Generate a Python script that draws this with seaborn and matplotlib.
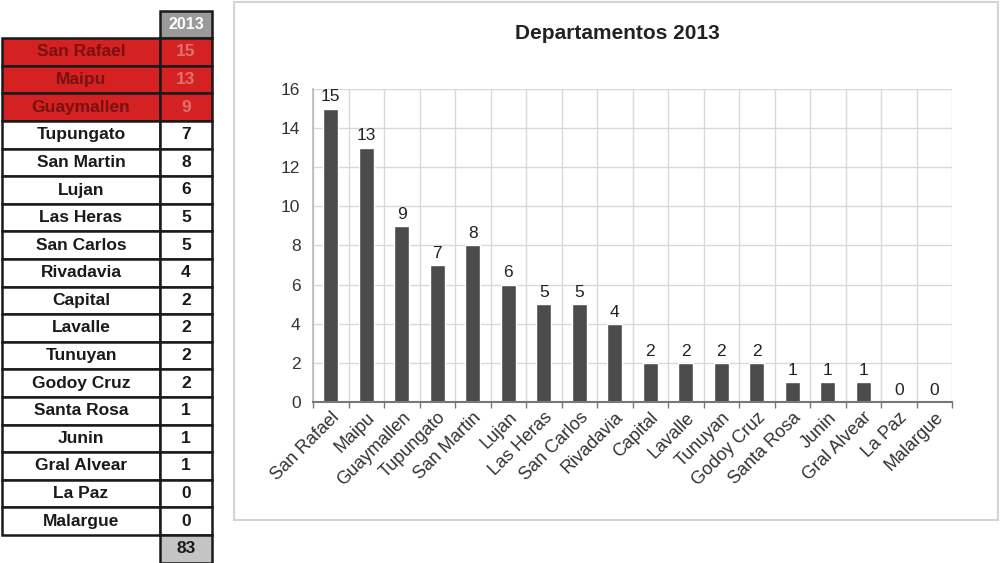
import matplotlib.pyplot as plt
import matplotlib.patches as mpatches
import seaborn as sns
import numpy as np
import pandas as pd

sns.set_theme(style="white")
plt.rcParams["font.family"] = ["Liberation Sans", "DejaVu Sans"]

DEPARTAMENTOS = ["San Rafael", "Maipu", "Guaymallen", "Tupungato", "San Martin",
                 "Lujan", "Las Heras", "San Carlos", "Rivadavia", "Capital",
                 "Lavalle", "Tunuyan", "Godoy Cruz", "Santa Rosa", "Junin",
                 "Gral Alvear", "La Paz", "Malargue"]
CASOS = [15, 13, 9, 7, 8, 6, 5, 5, 4, 2, 2, 2, 2, 1, 1, 1, 0, 0]
YEAR = "2013"
TOP_N = 3

RED = "#d42222"
BAR = "#4b4b4b"
GRID = "#d9d9d9"

df = pd.DataFrame({"depto": DEPARTAMENTOS, "casos": CASOS})

fig = plt.figure(figsize=(10, 5.63), dpi=100)

# ---- table on the left (pixel-like units) ----
tab = fig.add_axes([0, 0, 0.215, 1])
row_h = 27.6
y0 = 52
tab.set_xlim(0, 215)
tab.set_ylim(563, 0)
tab.axis("off")
name_x0, name_x1, val_x1 = 2, 160, 212

def cell(x0, x1, yc, face, lw=1.8):
    tab.add_patch(mpatches.Rectangle((x0, yc - row_h / 2), x1 - x0, row_h,
                                     facecolor=face, edgecolor="#1a1a1a", lw=lw))

# header
hy = y0 - row_h
cell(name_x1, val_x1, hy, "#9a9a9a")
tab.text((name_x1 + val_x1) / 2, hy, YEAR, ha="center", va="center",
         color="white", fontsize=11.5, fontweight="bold")

for i, (name, val) in enumerate(zip(DEPARTAMENTOS, CASOS)):
    yc = y0 + i * row_h
    top = i < TOP_N
    face = RED if top else "white"
    txt = "#7a1010" if top else "#1a1a1a"
    cell(name_x0, name_x1, yc, face)
    cell(name_x1, val_x1, yc, face)
    tab.text((name_x0 + name_x1) / 2, yc, name, ha="center", va="center",
             color=txt, fontsize=12.5, fontweight="bold")
    tab.text((name_x1 + val_x1) / 2, yc, str(val), ha="center", va="center",
             color="#e07070" if top else "#1a1a1a", fontsize=12.5, fontweight="bold")

ty = y0 + len(CASOS) * row_h
cell(name_x1, val_x1, ty, "#c4c4c4")
tab.text((name_x1 + val_x1) / 2, ty, str(sum(CASOS)), ha="center", va="center",
         color="#1a1a1a", fontsize=12.5, fontweight="bold")

# ---- chart frame ----
fig.patches.append(mpatches.Rectangle((0.234, 0.076), 0.764, 0.92,
                                      transform=fig.transFigure, fill=False,
                                      edgecolor="#d4d4d4", lw=1.5))
fig.text(0.617, 0.940, f"Departamentos {YEAR}", ha="center", va="center",
         fontsize=15, fontweight="bold", color="#222222")

ax = fig.add_axes([0.313, 0.286, 0.639, 0.556])
sns.barplot(data=df, x="depto", y="casos", color=BAR, width=0.42,
            saturation=1, ax=ax)
ax.bar_label(ax.containers[0], fontsize=12.5, color="#222222", padding=3)

ax.set_ylim(0, 16)
ax.set_yticks(np.arange(0, 17, 2))
ax.set_xlim(-0.5, len(CASOS) - 0.5)
ax.set_xticks(np.arange(-0.5, len(CASOS)), minor=True)
ax.grid(axis="y", color=GRID, lw=1)
ax.grid(axis="x", which="minor", color=GRID, lw=1)
ax.set_axisbelow(True)
ax.tick_params(axis="x", which="major", length=0, labelsize=13, pad=5)
ax.tick_params(axis="x", which="minor", length=4, color="#777777", bottom=True)
ax.tick_params(axis="y", length=0, labelsize=12.5, pad=9)
plt.setp(ax.get_xticklabels(), rotation=45, ha="right", rotation_mode="anchor",
         color="#333333")
plt.setp(ax.get_yticklabels(), color="#333333")
ax.set_xlabel("")
ax.set_ylabel("")
for s in ["top", "right"]:
    ax.spines[s].set_visible(False)
ax.spines["left"].set_color("#bbbbbb")
ax.spines["bottom"].set_color("#777777")
ax.spines["bottom"].set_linewidth(1.5)

fig.savefig("out.png", dpi=100)
